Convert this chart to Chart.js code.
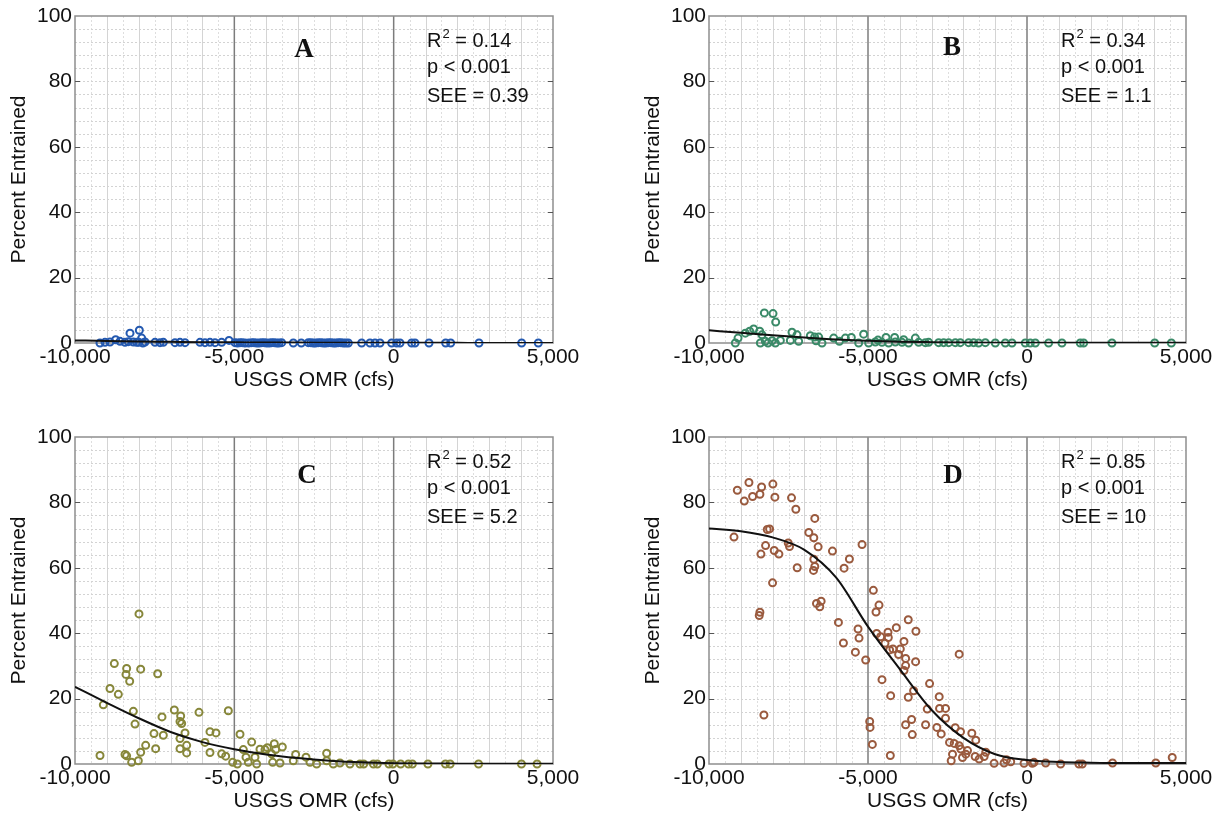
<!DOCTYPE html>
<html>
<head>
<meta charset="utf-8">
<script src="https://cdn.jsdelivr.net/npm/chart.js@4.4.1/dist/chart.umd.min.js"></script>
<style>
    html, body { margin: 0; padding: 0; background: #fff; overflow: hidden; width: 1219px; height: 816px; }
    canvas { position: absolute; }
</style>
</head>
<body>
<canvas id="panelA" width="609" height="408" style="left:0;top:0"></canvas>
<canvas id="panelB" width="585" height="408" style="left:634px;top:0"></canvas>
<canvas id="panelC" width="609" height="408" style="left:0;top:421px"></canvas>
<canvas id="panelD" width="585" height="408" style="left:634px;top:421px"></canvas>
<script>
// USGS OMR flow (cfs) vs percent entrained
const xA = [
    -9216, -9059, -8902, -8724, -8588, -8431, -8326, -8274, -8170, -8065,
    -7981, -7908, -7803, -7490, -7333, -7228, -6862, -6705, -6548, -6078,
    -5921, -5764, -5607, -5398, -5167, -4979, -4822, -4665, -4456, -4299,
    -4142, -3986, -3829, -3672, -3515, -3149, -2678, -2521, -2364, -2207,
    -2050, -1893, -1737, -1580, -1423, -1004, -743, -586, -429, -63,
    94, 199, 565, 669, 1109, 1632, 1789, 2678, 4016, 4539,
    -4900, -4750, -4550, -4380, -4220, -4060, -3900, -3750, -3600, -2900,
    -2600, -2450, -2280, -2130, -1970, -1820, -1660, -1500, -8000, -7870
];
const yA = [
    0, 0.2, 0.3, 1.0, 0.5, 0.2, 0.4, 3.0, 0.3, 0.2,
    3.9, 1.5, 0.3, 0.2, 0.1, 0.2, 0.1, 0.2, 0.1, 0.2,
    0.1, 0.2, 0.1, 0.2, 0.8, 0.1, 0.1, 0, 0.1, 0,
    0.1, 0, 0.1, 0, 0.1, 0, 0.1, 0, 0.1, 0,
    0.1, 0, 0.1, 0, 0, 0, 0, 0, 0, 0,
    0, 0, 0, 0, 0, 0, 0, 0, 0, 0,
    0, 0.1, 0, 0.1, 0, 0.1, 0, 0.1, 0, 0,
    0.1, 0, 0.1, 0, 0.1, 0, 0.1, 0, 0.2, 0
];

const xB = [
    -8259, -7987, -7903, -9171, -9087, -8857, -8720, -8595, -8406, -8333,
    -8385, -8228, -8144, -8018, -7913, -7756, -7442, -7390, -7232, -7180,
    -6813, -6677, -6551, -6446, -6635, -6079, -5900, -5712, -5524, -5293,
    -5136, -4979, -4686, -4434, -4162, -4350, -3879, -3512, -3722, -4769,
    -4560, -4141, -3931, -3407, -3197, -3093, -2778, -2621, -2464, -2254,
    -2097, -1835, -1678, -1521, -1311, -997, -682, -473, -54, 104,
    261, 680, 1099, 1676, 1781, 2671, 4016, 4539
];
const yB = [
    9.2, 9.0, 6.4, 0, 1.5, 3.0, 3.6, 4.3, 3.6, 2.5,
    0, 0.5, 0, 0.7, 0, 0.8, 0.8, 3.3, 2.5, 0.5,
    2.2, 1.8, 1.8, 0, 0.7, 1.5, 0.5, 1.5, 1.7, 0,
    2.7, 0, 0.9, 1.7, 1.7, 0, 1.0, 1.5, 0, 0.3,
    0.2, 0.3, 0.2, 0.2, 0.1, 0.2, 0.1, 0.1, 0.1, 0.1,
    0.1, 0.1, 0.1, 0, 0.1, 0, 0, 0, 0, 0,
    0, 0, 0, 0, 0, 0, 0, 0
];

const xC = [
    -7992, -8766, -8379, -8400, -8284, -7939, -7406, -8902, -8640, -9111,
    -8169, -8117, -7270, -6883, -6684, -6705, -6653, -6109, -5188, -7521,
    -7228, -6705, -6548, -5764, -5576, -5921, -7782, -7939, -7469, -6705,
    -6496, -6496, -5764, -9215, -8431, -8379, -8222, -8013, -5397, -5272,
    -5052, -4906, -4822, -4718, -4456, -4634, -4561, -4299, -4352, -4195,
    -4038, -3964, -3745, -3703, -3494, -3829, -3797, -3567, -3076, -3149,
    -2751, -2626, -2416, -2103, -2103, -1894, -1685, -1372, -1057, -941,
    -635, -513, -147, -24, 220, 464, 587, 1075, 1625, 1772,
    2664, 4010, 4500
];
const yC = [
    45.9, 30.7, 29.2, 27.4, 25.3, 29.0, 27.6, 23.1, 21.3, 18.1,
    16.1, 12.2, 14.4, 16.5, 14.7, 13.0, 12.4, 15.8, 16.3, 9.3,
    8.8, 7.8, 9.5, 9.9, 9.5, 6.6, 5.7, 3.6, 4.7, 4.7,
    5.7, 3.4, 3.5, 2.6, 2.9, 2.5, 0.5, 1.0, 3.1, 2.4,
    0.5, 0, 9.1, 4.4, 6.7, 2.1, 0.5, 0, 2.1, 4.5,
    4.4, 5.0, 6.2, 4.4, 5.2, 3.1, 0.5, 0.3, 2.9, 1.0,
    2.1, 0.5, 0, 3.3, 1.0, 0, 0.3, 0, 0, 0,
    0, 0, 0, 0, 0, 0, 0, 0, 0, 0,
    0, 0, 0
];

const xD = [
    -9110, -8890, -8744, -8629, -8399, -8346, -7991, -7928, -7405, -7269,
    -9214, -8221, -8367, -8168, -8095, -7949, -7802, -7509, -7468, -7227,
    -8001, -8399, -8420, -8273, -6673, -6861, -6704, -6568, -6704, -6673,
    -6714, -6118, -5585, -5752, -5187, -6620, -6474, -6516, -5930, -5773,
    -5397, -5313, -5282, -5072, -4832, -4654, -4748, -4727, -4602, -4372,
    -4361, -4466, -4319, -4215, -4110, -3984, -3869, -4037, -3817, -3734,
    -3493, -3817, -3869, -3503, -4560, -4288, -3734, -3566, -3064, -4947,
    -4936, -4863, -4298, -3817, -3629, -3608, -3189, -3137, -2761, -2750,
    -2562, -2562, -2834, -2698, -2436, -2384, -2133, -2258, -2091, -1735,
    -1610, -2290, -2133, -2081, -1871, -1924, -2342, -2028, -1631, -1505,
    -1296, -1348, -1034, -721, -647, -512, -93, 168, 221, 587,
    1058, 1633, 1737, 2690, 4050, 4567
];
const yD = [
    83.7, 80.4, 86.1, 81.8, 82.5, 84.7, 85.6, 81.6, 81.4, 77.9,
    69.4, 66.8, 64.2, 71.7, 71.9, 65.3, 64.2, 67.6, 66.5, 60.0,
    55.4, 46.4, 45.4, 15.0, 75.1, 70.8, 69.2, 66.4, 62.6, 60.4,
    59.2, 65.1, 62.7, 59.9, 67.1, 49.1, 49.8, 48.1, 43.3, 37.0,
    34.2, 41.3, 38.5, 31.8, 53.1, 48.6, 46.5, 39.9, 38.9, 40.3,
    38.7, 36.9, 34.9, 35.2, 41.7, 35.2, 37.5, 33.5, 32.3, 44.1,
    40.6, 30.1, 28.6, 31.3, 25.8, 20.9, 20.4, 22.4, 24.6, 13.0,
    11.2, 6.0, 2.6, 12.0, 13.6, 9.0, 12.0, 16.8, 20.6, 17.0,
    17.0, 14.0, 11.2, 9.2, 6.6, 1.0, 33.6, 11.1, 9.9, 9.4,
    7.3, 6.3, 5.6, 4.6, 4.1, 3.0, 3.0, 2.0, 2.3, 1.5,
    3.6, 2.3, 0.2, 0.3, 1.3, 0.7, 0.2, 0.2, 0.5, 0.3,
    0, 0, 0, 0.3, 0.3, 2.0
];

// fitted curves, read every 1,000 cfs
const curveX = [-10000, -9000, -8000, -7000, -6000, -5000, -4000, -3000, -2000, -1000, 0, 1000, 2000, 3000, 4000, 5000];
const curveA = [0.8, 0.6, 0.45, 0.35, 0.25, 0.2, 0.15, 0.12, 0.1, 0.08, 0.06, 0.05, 0.04, 0.03, 0.03, 0.02];
const curveB = [3.9, 3.1, 2.4, 1.7, 1.1, 0.7, 0.4, 0.25, 0.15, 0.1, 0.08, 0.06, 0.05, 0.05, 0.05, 0.05];
const curveC = [23.6, 18.7, 14.0, 9.8, 6.7, 4.5, 2.9, 1.8, 1.0, 0.5, 0.25, 0.15, 0.1, 0.05, 0.05, 0.05];
const curveD = [72, 71.2, 69.3, 65.5, 57, 42, 29, 16.5, 8, 3, 1.2, 0.6, 0.4, 0.3, 0.3, 0.3];

const yTicks = [0, 20, 40, 60, 80, 100];
const xTicks = [-10000, -5000, 0, 5000];

const SANS = '"Liberation Sans", Arial, sans-serif';

const panelDecor = {
    id: 'panelDecor',
    beforeDatasetsDraw(chart) {
        const ctx = chart.ctx;
        const a = chart.chartArea;
        const xs = chart.scales.x, ys = chart.scales.y;
        ctx.save();
        ctx.lineWidth = 1;
        // vertical minor lines every 500
        for (let v = -9500; v < 5000; v += 500) {
            if (v === -5000 || v === 0) continue;
            const px = Math.round(xs.getPixelForValue(v)) + 0.5;
            ctx.strokeStyle = v % 1000 === 0 ? '#d4d4d4' : '#dedede';
            ctx.setLineDash(v % 1000 === 0 ? [] : [2, 2]);
            ctx.beginPath(); ctx.moveTo(px, a.top); ctx.lineTo(px, a.bottom); ctx.stroke();
        }
        // horizontal dotted lines every 4
        ctx.setLineDash([2, 2]);
        ctx.strokeStyle = '#d3d3d3';
        for (let v = 4; v < 100; v += 4) {
            const py = Math.round(ys.getPixelForValue(v)) + 0.5;
            ctx.beginPath(); ctx.moveTo(a.left, py); ctx.lineTo(a.right, py); ctx.stroke();
        }
        ctx.setLineDash([]);
        // major verticals
        ctx.strokeStyle = '#7c7c7c';
        ctx.lineWidth = 1.5;
        [-5000, 0].forEach(v => {
            const px = xs.getPixelForValue(v);
            ctx.beginPath(); ctx.moveTo(px, a.top); ctx.lineTo(px, a.bottom); ctx.stroke();
        });
        // frame
        ctx.strokeStyle = '#8e8e8e';
        ctx.lineWidth = 1.5;
        ctx.strokeRect(a.left, a.top, a.right - a.left, a.bottom - a.top);
        // little ticks at 20s
        ctx.strokeStyle = '#555';
        ctx.lineWidth = 1;
        [20, 40, 60, 80].forEach(v => {
            const py = Math.round(ys.getPixelForValue(v)) + 0.5;
            ctx.beginPath();
            ctx.moveTo(a.left, py); ctx.lineTo(a.left + 5, py);
            ctx.moveTo(a.right - 5, py); ctx.lineTo(a.right, py);
            ctx.stroke();
        });
        ctx.restore();
    },
    afterDraw(chart, args, opts) {
        const ctx = chart.ctx;
        const a = chart.chartArea;
        ctx.save();
        ctx.fillStyle = '#111';
        ctx.textBaseline = 'alphabetic';
        // panel letter
        ctx.font = 'bold 27px "Liberation Serif", "Times New Roman", serif';
        ctx.textAlign = 'center';
        ctx.fillText(opts.letter, a.left + opts.letterX, a.top + opts.letterY);
        // statistics
        ctx.textAlign = 'left';
        const x = a.left + 352;
        ctx.font = '20px ' + SANS;
        ctx.fillText('R', x, a.top + 31);
        const wR = ctx.measureText('R').width;
        ctx.font = '13px ' + SANS;
        ctx.fillText('2', x + wR + 1, a.top + 22);
        const w2 = ctx.measureText('2').width;
        ctx.font = '20px ' + SANS;
        ctx.fillText(' = ' + opts.r2, x + wR + 1 + w2, a.top + 31);
        ctx.fillText('p < 0.001', x, a.top + 57);
        ctx.fillText('SEE = ' + opts.see, x, a.top + 86);
        ctx.restore();
    }
};

function makePanel(id, xs, ys, curve, color, rightPad, decor) {
    const points = xs.map((x, i) => ({ x: x, y: ys[i] }));
    const line = curveX.map((x, i) => ({ x: x, y: curve[i] }));
    return new Chart(document.getElementById(id), {
        type: 'scatter',
        data: {
            datasets: [
                {
                    type: 'line',
                    data: line,
                    borderColor: '#111',
                    borderWidth: 2,
                    pointRadius: 0,
                    cubicInterpolationMode: 'monotone',
                    fill: false,
                    order: 0
                },
                {
                    data: points,
                    borderColor: color,
                    backgroundColor: 'rgba(0,0,0,0)',
                    borderWidth: 2,
                    pointRadius: 3.5,
                    pointStyle: 'circle',
                    clip: false,
                    order: 1
                }
            ]
        },
        options: {
            responsive: false,
            animation: false,
            devicePixelRatio: 1,
            layout: { padding: { top: 16, right: rightPad, left: 0, bottom: 0 } },
            plugins: {
                legend: { display: false },
                tooltip: { enabled: false },
                panelDecor: decor
            },
            scales: {
                x: {
                    type: 'linear',
                    min: -10000,
                    max: 5000,
                    afterBuildTicks: s => { s.ticks = xTicks.map(v => ({ value: v })); },
                    afterFit: s => { s.height = 65; },
                    grid: { display: false, drawTicks: false },
                    border: { display: false },
                    ticks: {
                        padding: 2,
                        maxRotation: 0,
                        color: '#111',
                        font: { family: SANS, size: 21 },
                        callback: v => v.toLocaleString('en-US')
                    },
                    title: {
                        display: true,
                        text: 'USGS OMR (cfs)',
                        color: '#111',
                        font: { family: SANS, size: 21 },
                        padding: { top: 0, bottom: 15 }
                    }
                },
                y: {
                    type: 'linear',
                    min: 0,
                    max: 100,
                    afterBuildTicks: s => { s.ticks = yTicks.map(v => ({ value: v })); },
                    afterFit: s => { s.width = 75; },
                    grid: { display: false, drawTicks: false },
                    border: { display: false },
                    ticks: {
                        padding: 3,
                        color: '#111',
                        font: { family: SANS, size: 21 }
                    },
                    title: {
                        display: true,
                        text: 'Percent Entrained',
                        color: '#111',
                        font: { family: SANS, size: 21 },
                        padding: { top: 7, bottom: 0 }
                    }
                }
            }
        },
        plugins: [panelDecor]
    });
}

makePanel('panelA', xA, yA, curveA, '#2459b0', 56, { letter: 'A', letterX: 229, letterY: 41, r2: '0.14', see: '0.39' });
makePanel('panelB', xB, yB, curveB, '#3a8a68', 33, { letter: 'B', letterX: 243, letterY: 39, r2: '0.34', see: '1.1' });
makePanel('panelC', xC, yC, curveC, '#87873a', 56, { letter: 'C', letterX: 232, letterY: 46, r2: '0.52', see: '5.2' });
makePanel('panelD', xD, yD, curveD, '#9a5a3e', 33, { letter: 'D', letterX: 244, letterY: 46, r2: '0.85', see: '10' });
</script>
</body>
</html>
